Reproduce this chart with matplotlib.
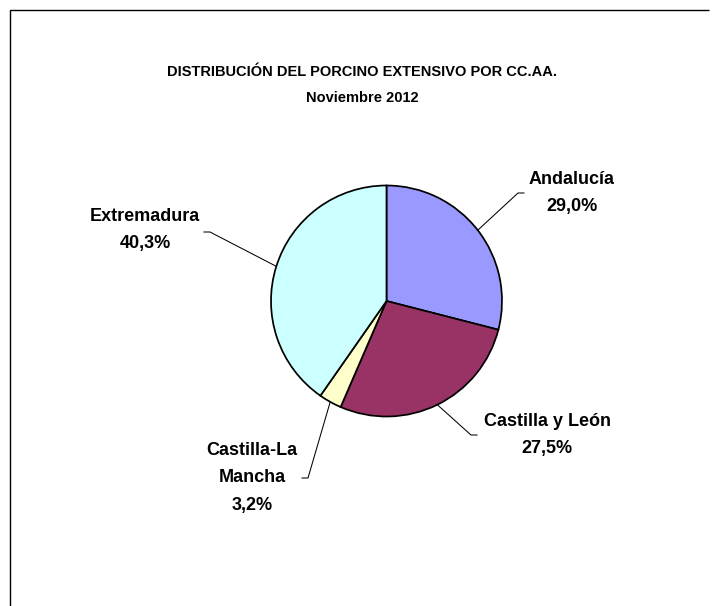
import matplotlib
matplotlib.use("Agg")
import matplotlib.pyplot as plt
import numpy as np

W, H = 721, 606

regions = ["Andalucía", "Castilla y León", "Castilla-La\nMancha", "Extremadura"]
shares = [29.0, 27.5, 3.2, 40.3]
colours = ["#9999FF", "#993366", "#FFFFCC", "#CCFFFF"]

title = "DISTRIBUCIÓN DEL PORCINO EXTENSIVO POR CC.AA.\nNoviembre 2012"

# layout, in pixels measured from the top-left corner
centre_px = (386.5, 301)
radius_px = 115.5
label_px = [(572, 193), (547, 435), (252, 478), (145, 230)]
elbow_px = [(518, 193), (471, 435), (308, 478), (210, 232)]

plt.rcParams["font.family"] = ["Liberation Sans", "DejaVu Sans"]


def flip(p):
    return (p[0], H - p[1])


fig = plt.figure(figsize=(W / 100, H / 100), dpi=100)
ax = fig.add_axes([0, 0, 1, 1])

wedges, _ = ax.pie(
    shares,
    colors=colours,
    startangle=90,
    counterclock=False,
    center=flip(centre_px),
    radius=radius_px,
    wedgeprops=dict(edgecolor="black", linewidth=1.25),
)
ax.set_xlim(0, W)
ax.set_ylim(0, H)
ax.set_aspect("auto")
ax.axis("off")

# leader lines and labels
for w, name, v, lab, elb in zip(wedges, regions, shares, label_px, elbow_px):
    ang = np.deg2rad((w.theta1 + w.theta2) / 2)
    cx, cy = w.center
    start = (cx + w.r * np.cos(ang), cy + w.r * np.sin(ang))
    ex, ey = flip(elb)
    step = 6 if lab[0] > elb[0] else -6
    ax.plot([start[0], ex, ex + step], [start[1], ey, ey], color="black", lw=0.75)
    txt = f"{name}\n{v:.1f}".replace(".", ",") + "%"
    ax.text(*flip(lab), txt, ha="center", va="center", ma="center",
            fontsize=13, fontweight="bold", linespacing=1.8)

ax.text(362, H - 85, title, ha="center", va="center", ma="center",
        fontsize=10.5, fontweight="bold", linespacing=2.0)

# chart area border (left and top edges only visible)
ax.plot([10, 10, 709], [0, H - 10, H - 10], color="black", lw=1.0,
        solid_capstyle="butt", solid_joinstyle="miter")

fig.savefig("out.png", dpi=100)
